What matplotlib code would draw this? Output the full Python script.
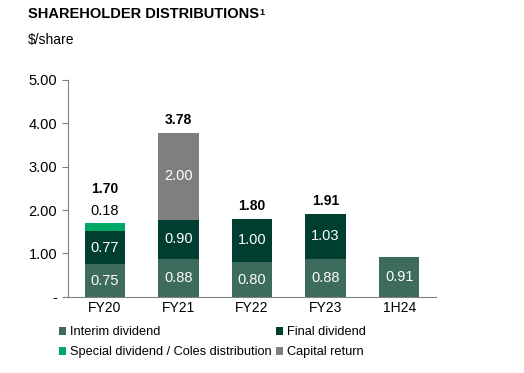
import matplotlib.pyplot as plt
import numpy as np

categories = ['FY20', 'FY21', 'FY22', 'FY23', '1H24']
interim = [0.75, 0.88, 0.80, 0.88, 0.91]
final = [0.77, 0.90, 1.00, 1.03, 0.0]
special = [0.18, 0.0, 0.0, 0.0, 0.0]
capital = [0.0, 2.00, 0.0, 0.0, 0.0]
totals = ['1.70', '3.78', '1.80', '1.91', '']
yticks = [0, 1, 2, 3, 4, 5]
ytick_labels = ['-', '1.00', '2.00', '3.00', '4.00', '5.00']

c_interim = '#3d6b5e'
c_final = '#003f2f'
c_special = '#00a865'
c_capital = '#7f7f7f'

plt.rcParams['font.family'] = ['Liberation Sans', 'DejaVu Sans']

fig = plt.figure(figsize=(5.24, 3.73), dpi=100)
ax = fig.add_axes([0.13, 0.204, 0.702, 0.582])

x = np.arange(len(categories))
w = 0.55
b1 = ax.bar(x, interim, w, color=c_interim, label='Interim dividend')
bot = np.array(interim)
b2 = ax.bar(x, final, w, bottom=bot, color=c_final, label='Final dividend')
bot = bot + np.array(final)
b3 = ax.bar(x, special, w, bottom=bot, color=c_special, label='Special dividend / Coles distribution')
bot = bot + np.array(special)
b4 = ax.bar(x, capital, w, bottom=bot, color=c_capital, label='Capital return')
top = bot + np.array(capital)

# labels inside segments
for i in range(len(categories)):
    ax.text(x[i], interim[i] / 2, '%.2f' % interim[i], ha='center', va='center', color='white', fontsize=10.5)
    if final[i] > 0:
        ax.text(x[i], interim[i] + final[i] / 2, '%.2f' % final[i], ha='center', va='center', color='white', fontsize=10.5)
    if capital[i] > 0:
        ax.text(x[i], interim[i] + final[i] + special[i] + capital[i] / 2, '%.2f' % capital[i],
                ha='center', va='center', color='white', fontsize=10.5)
    if special[i] > 0:
        ax.text(x[i], top[i] + 0.28, '%.2f' % special[i], ha='center', va='center', color='black', fontsize=10.5)
        ax.text(x[i], top[i] + 0.78, totals[i], ha='center', va='center', color='black', fontsize=10, fontweight='bold')
    elif totals[i]:
        ax.text(x[i], top[i] + 0.3, totals[i], ha='center', va='center', color='black', fontsize=10, fontweight='bold')

ax.set_xlim(-0.5, 4.5)
ax.set_ylim(0, 5)
ax.set_xticks(x)
ax.set_xticklabels(categories, fontsize=10)
ax.set_yticks(yticks)
ax.set_yticklabels(ytick_labels, fontsize=10.5)
ax.tick_params(axis='x', length=0, pad=3)
ax.tick_params(axis='y', length=4, color='#808080', pad=4)
for s in ['top', 'right']:
    ax.spines[s].set_visible(False)
ax.spines['left'].set_color('#808080')
ax.spines['bottom'].set_color('#808080')

title = fig.text(0.053, 0.962, 'SHAREHOLDER DISTRIBUTIONS', fontsize=10.5, fontweight='bold', va='center')
fig.text(0.053, 0.893, '$/share', fontsize=10, va='center')
ax.annotate('1', xy=(1, 1), xycoords=title, xytext=(0.3, -0.5), textcoords='offset points',
            fontsize=6.5, fontweight='bold', ha='left', va='top')

# row-wise order: interim, final / special, capital
fig.legend(handles=[b1, b3, b2, b4], loc='upper left', bbox_to_anchor=(0.10, 0.142), ncol=2,
           frameon=False, fontsize=9.2, handlelength=0.6, handleheight=0.6, handletextpad=0.3,
           columnspacing=0.3, labelspacing=0.6, borderpad=0)

fig.savefig('out.png', dpi=100)
